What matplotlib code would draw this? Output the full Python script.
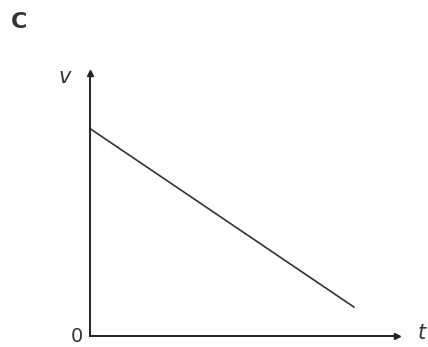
import numpy as np
import matplotlib.pyplot as plt

# v-t graph: velocity falling linearly
t = [0.0, 8.6]
v = [7.9, 1.1]

W, H = 428, 347
fig = plt.figure(figsize=(W / 100, H / 100), dpi=100)
# origin at pixel (89.5, 336), x arrow to 397, y arrow to 73
ax = fig.add_axes([89.5 / W, (H - 336) / H, (397 - 89.5) / W, (336 - 73) / H])
ax.set_xlim(0, 10)
ax.set_ylim(0, 10)

ax.plot(t, v, color="#333333", lw=1.2)

for s in ["top", "right"]:
    ax.spines[s].set_visible(False)
for s in ["left", "bottom"]:
    ax.spines[s].set_linewidth(1.4)
    ax.spines[s].set_color("#222222")
ax.set_xticks([])
ax.set_yticks([])

# arrow heads
ax.plot(1, 0, ">", color="#222222", ms=5, transform=ax.get_yaxis_transform(), clip_on=False)
ax.plot(0, 1, "^", color="#222222", ms=5, transform=ax.get_xaxis_transform(), clip_on=False)

ax.text(-0.08, 0.985, "v", transform=ax.transAxes, fontsize=15, style="italic",
        color="#333333", ha="center", va="center")
ax.text(1.081, 0.01, "t", transform=ax.transAxes, fontsize=15, style="italic",
        color="#333333", ha="center", va="center")
ax.text(-0.04, 0.0, "0", transform=ax.transAxes, fontsize=14,
        color="#333333", ha="center", va="center")
fig.text(19 / W, 1 - 22 / H, "C", fontsize=16, fontweight="bold",
         color="#333333", ha="center", va="center")

fig.savefig("out.png", dpi=100)
